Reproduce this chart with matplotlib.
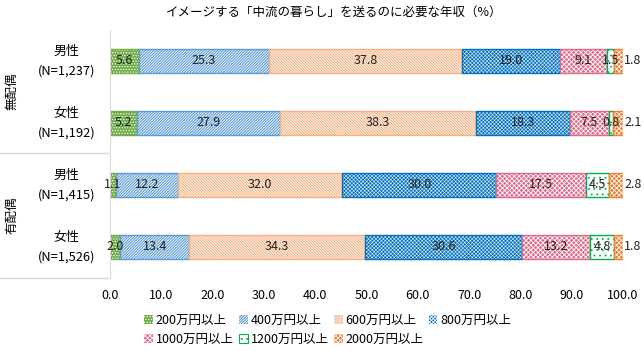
import matplotlib
matplotlib.use("Agg")
import matplotlib.pyplot as plt
from matplotlib.patches import Patch
from matplotlib.lines import Line2D
import numpy as np

plt.rcParams['font.family'] = ['Noto Sans CJK JP', 'DejaVu Sans']
plt.rcParams['hatch.linewidth'] = 0.6

title = "イメージする「中流の暮らし」を送るのに必要な年収（%）"
groups = ["無配偶", "有配偶"]
row_labels = ["男性\n(N=1,237)", "女性\n(N=1,192)", "男性\n(N=1,415)", "女性\n(N=1,526)"]
series = ["200万円以上", "400万円以上", "600万円以上", "800万円以上",
          "1000万円以上", "1200万円以上", "2000万円以上"]
values = [
    [5.6, 25.3, 37.8, 19.0, 9.1, 1.5, 1.8],
    [5.2, 27.9, 38.3, 18.3, 7.5, 0.8, 2.1],
    [1.1, 12.2, 32.0, 30.0, 17.5, 4.5, 2.8],
    [2.0, 13.4, 34.3, 30.6, 13.2, 4.8, 1.8],
]
xticks = [0, 10, 20, 30, 40, 50, 60, 70, 80, 90, 100]

# style: (base colour, hatch, background fill, hatch linewidth)
styles = [
    ("#70AD47", "......", "#70AD47", 0.6),
    ("#5B9BD5", "////////////", "#5B9BD5", 0.6),
    ("#F4B183", "\\\\\\\\\\\\\\\\\\\\\\\\", "#F4B183", 0.6),
    ("#0070C0", "xxxxxxxxx", "#0070C0", 0.35),
    ("#E06A8A", "xxxxxxx", "#E06A8A", 0.6),
    ("#00B050", "...", "white", 0.6),
    ("#ED7D31", "xxxxxxx", "#ED7D31", 0.6),
]

fig = plt.figure(figsize=(6.44, 3.51), dpi=100)
W, H = 644, 351
ax = fig.add_axes([110 / W, 1 - 278 / H, (623 - 110) / W, (278 - 30) / H])

vals = np.array(values)
ypos = np.arange(len(row_labels))
left = np.zeros(len(row_labels))
bh = 0.4
for j, (col, hatch, bg, hlw) in enumerate(styles):
    w = vals[:, j]
    with plt.rc_context({'hatch.linewidth': hlw}):
        if bg == "white":
            ax.barh(ypos, w, left=left, height=bh, color="white", edgecolor=col,
                    hatch=hatch, linewidth=0)
        else:
            ax.barh(ypos, w, left=left, height=bh, color=bg, edgecolor="white",
                    hatch=hatch, linewidth=0)
    ax.barh(ypos, w, left=left, height=bh, fill=False, edgecolor=col, linewidth=1)
    for i in range(len(ypos)):
        if j == len(styles) - 1:
            x = left[i] + w[i] + 1.8
        else:
            x = left[i] + w[i] / 2
        ax.text(x, ypos[i], f"{w[i]:.1f}", ha="center", va="center",
                fontsize=9, color="#222222")
    left = left + w

ax.set_xlim(0, 100)
ax.set_ylim(3.5, -0.5)
ax.set_xticks(xticks)
ax.set_xticklabels([f"{t:.1f}" for t in xticks], fontsize=9)
ax.tick_params(axis="x", length=0, pad=8)
ax.set_yticks([])
for s in ["top", "right", "bottom"]:
    ax.spines[s].set_visible(False)
ax.spines["left"].set_color("#D9D9D9")
ax.patch.set_visible(False)

# row labels
for i, lab in enumerate(row_labels):
    ax.text(-0.085, ypos[i], lab, transform=ax.get_yaxis_transform(),
            ha="center", va="center", fontsize=9.3, linespacing=1.65)

# group labels and separators
for g, gy in zip(groups, [91, 215]):
    fig.text(12 / W, 1 - gy / H, g, rotation=90, ha="center", va="center", fontsize=9)
for yy in [153, 278]:
    fig.add_artist(Line2D([0, 108 / W], [1 - yy / H, 1 - yy / H], color="#D9D9D9",
                          linewidth=1, transform=fig.transFigure))

fig.text(334 / W, 1 - 12 / H, title, ha="center", va="center", fontsize=9)

handles = []
for (col, hatch, bg, hlw) in styles:
    with plt.rc_context({'hatch.linewidth': hlw}):
        if bg == "white":
            handles.append(Patch(facecolor="white", edgecolor=col, hatch=hatch, linewidth=0.8))
        else:
            handles.append(Patch(facecolor=bg, edgecolor="white", hatch=hatch, linewidth=0))
order = [0, 4, 1, 5, 2, 6, 3]
fig.legend([handles[k] for k in order], [series[k] for k in order], ncol=4,
           loc="upper left", bbox_to_anchor=(144 / W, 1 - 314 / H), frameon=False,
           fontsize=9, handlelength=0.7, handleheight=0.7, handletextpad=0.25,
           columnspacing=0.4, labelspacing=0.45, borderpad=0, borderaxespad=0)

fig.savefig("out.png", dpi=100)
